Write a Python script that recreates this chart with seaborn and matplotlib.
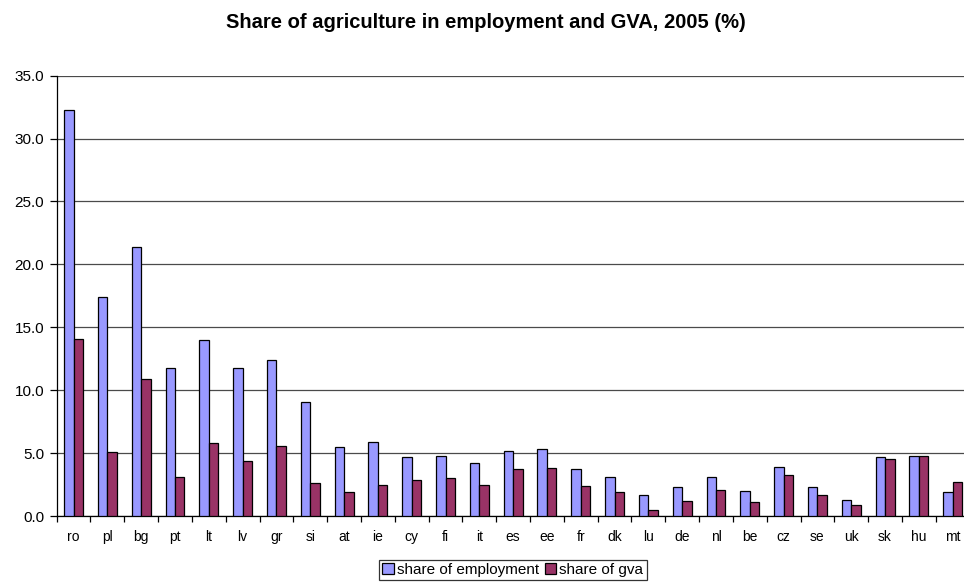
import matplotlib
matplotlib.use("Agg")
import matplotlib.pyplot as plt
import seaborn as sns
import pandas as pd

countries = ["ro", "pl", "bg", "pt", "lt", "lv", "gr", "si", "at", "ie", "cy", "fi", "it",
             "es", "ee", "fr", "dk", "lu", "de", "nl", "be", "cz", "se", "uk", "sk", "hu", "mt"]
share_employment = [32.3, 17.4, 21.4, 11.8, 14.0, 11.8, 12.4, 9.1, 5.5, 5.9, 4.7, 4.8, 4.2,
                    5.2, 5.3, 3.7, 3.1, 1.7, 2.3, 3.1, 2.0, 3.9, 2.3, 1.3, 4.7, 4.8, 1.9]
share_gva = [14.1, 5.1, 10.9, 3.1, 5.8, 4.4, 5.6, 2.6, 1.9, 2.5, 2.9, 3.0, 2.5,
             3.7, 3.8, 2.4, 1.9, 0.5, 1.2, 2.1, 1.1, 3.3, 1.7, 0.9, 4.5, 4.8, 2.7]
series_names = ["share of employment", "share of gva"]
y_ticks = [0, 5, 10, 15, 20, 25, 30, 35]

df = pd.DataFrame({
    "country": countries * 2,
    "value": share_employment + share_gva,
    "series": [series_names[0]] * len(countries) + [series_names[1]] * len(countries),
})

sns.set_style("white")
plt.rcParams["font.family"] = ["Liberation Sans", "DejaVu Sans"]
plt.rcParams["text.color"] = "black"
plt.rcParams["xtick.color"] = "black"
plt.rcParams["ytick.color"] = "black"

fig = plt.figure(figsize=(9.64, 5.84), dpi=100)
ax = fig.add_axes([0.0588, 0.1164, 0.947, 0.754])

sns.barplot(data=df, x="country", y="value", hue="series", order=countries,
            hue_order=series_names, palette=["#9999FF", "#993366"],
            width=0.56, gap=0, edgecolor="black", linewidth=0.9,
            saturation=1, errorbar=None, ax=ax, zorder=3)

ax.set_ylim(0, 35)
ax.set_xlim(-0.5, len(countries) - 0.5)
ax.set_yticks(y_ticks)
ax.set_yticklabels([f"{v:.1f}" for v in y_ticks], fontsize=11)
ax.yaxis.grid(True, color="#4a4a4a", linewidth=0.9, zorder=0)
ax.xaxis.grid(False)
ax.set_axisbelow(True)

ax.set_xticks(range(len(countries)))
ax.set_xticklabels(countries, fontsize=10)
ax.tick_params(axis="x", which="major", length=0, pad=10)
ax.set_xticks([i - 0.5 for i in range(len(countries) + 1)], minor=True)
ax.tick_params(axis="x", which="minor", direction="out", length=4, width=0.9, color="black", bottom=True)
ax.tick_params(axis="y", direction="out", length=5, width=0.9, color="black", left=True, pad=4)

for side in ["top", "right"]:
    ax.spines[side].set_visible(False)
for side in ["left", "bottom"]:
    ax.spines[side].set_color("black")
    ax.spines[side].set_linewidth(0.9)

ax.set_xlabel("")
ax.set_ylabel("")

fig.suptitle("Share of agriculture in employment and GVA, 2005 (%)", fontsize=14.5,
             fontweight="bold", x=0.5036, y=0.961, va="center", color="black")

handles, labels = ax.get_legend_handles_labels()
ax.legend_.remove()
leg = fig.legend(handles, labels, loc="center", bbox_to_anchor=(0.532, 0.024), ncol=2,
                 fontsize=11, frameon=True, fancybox=False, edgecolor="black",
                 handlelength=0.75, handleheight=0.75, handletextpad=0.2, columnspacing=0.4,
                 borderpad=0.2, borderaxespad=0)
leg.get_frame().set_linewidth(0.9)

fig.savefig("out.png", dpi=100)
